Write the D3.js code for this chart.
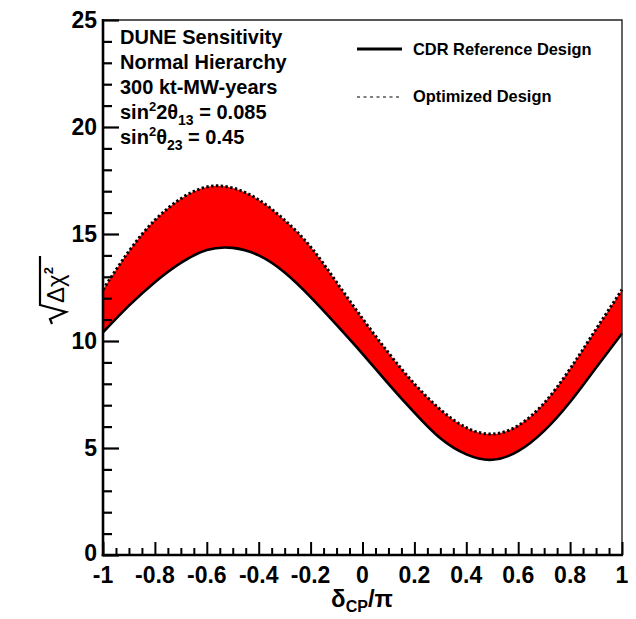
<!DOCTYPE html>
<html><head><meta charset="utf-8">
<script src="https://cdn.jsdelivr.net/npm/d3@7"></script>
<style>
html,body{margin:0;padding:0;background:#fff;}
svg text{font-family:"Liberation Sans",Arial,Helvetica,sans-serif;font-weight:bold;fill:#000;}
</style></head>
<body>
<svg id="c" width="636" height="619"></svg>
<script>
// ---- data ----
const deltaCP = [-1.0,-0.9,-0.8,-0.7,-0.6,-0.5,-0.4,-0.3,-0.2,-0.1,0.0,0.1,0.2,0.3,0.4,0.5,0.6,0.7,0.8,0.9,1.0];
const cdrReference = [10.4,11.65,12.75,13.65,14.25,14.35,14.0,13.2,12.05,10.75,9.4,8.0,6.65,5.45,4.7,4.45,4.85,5.8,7.15,8.75,10.35];
const optimized    = [12.4,14.2,15.65,16.65,17.2,17.15,16.6,15.65,14.4,12.75,11.05,9.45,8.0,6.8,5.95,5.65,6.05,7.1,8.7,10.55,12.4];
const xTicks = [-1,-0.8,-0.6,-0.4,-0.2,0,0.2,0.4,0.6,0.8,1];
const yTicks = [0,5,10,15,20,25];
const infoLines = ["DUNE Sensitivity","Normal Hierarchy","300 kt-MW-years"];
const legendLabels = ["CDR Reference Design","Optimized Design"];

const svg = d3.select("#c");
const x = d3.scaleLinear().domain([-1,1]).range([103,622]);
const y = d3.scaleLinear().domain([0,25]).range([555,20]);

const pts = deltaCP.map((d,i)=>({x:d, lo:cdrReference[i], hi:optimized[i]}));
const curve = d3.curveNatural;

// band
svg.append("path").datum(pts)
  .attr("d", d3.area().x(d=>x(d.x)).y0(d=>y(d.lo)).y1(d=>y(d.hi)).curve(curve))
  .attr("fill","#ff0000");
// optimized dotted
svg.append("path").datum(pts)
  .attr("d", d3.line().x(d=>x(d.x)).y(d=>y(d.hi)).curve(curve))
  .attr("fill","none").attr("stroke","#000").attr("stroke-width",3).attr("stroke-dasharray","2.4,2.4");
// cdr solid
svg.append("path").datum(pts)
  .attr("d", d3.line().x(d=>x(d.x)).y(d=>y(d.lo)).curve(curve))
  .attr("fill","none").attr("stroke","#000").attr("stroke-width",2.6);

// frame (top/right)
svg.append("path").attr("d",`M${x(-1)},${y(25)}H${x(1)}V${y(0)}`)
  .attr("fill","none").attr("stroke","#222").attr("stroke-width",1.4);

// y axis
const yAxis = d3.axisRight(y).tickValues(d3.range(0,26,1)).tickSize(0).tickFormat("");
const gy = svg.append("g").attr("transform",`translate(${x(-1)},0)`).call(yAxis);
gy.select(".domain").remove();
gy.selectAll(".tick line").attr("x2",d=>d%5===0?16:9).attr("stroke","#000").attr("stroke-width",2.2);
svg.append("line").attr("x1",x(-1)).attr("x2",x(-1)).attr("y1",y(25)-1).attr("y2",y(0)+1.3).attr("stroke","#000").attr("stroke-width",2.6);
svg.selectAll(".ylab").data(yTicks).enter().append("text")
  .attr("x",97).attr("y",d=>y(d)).attr("dy",d=>d===0?"0.28em":"0.36em").attr("text-anchor","end")
  .style("font-size","23px").text(d=>d);

// x axis
const xAxis = d3.axisTop(x).tickValues(d3.range(-20,21,1).map(v=>v/20)).tickSize(0).tickFormat("");
const gx = svg.append("g").attr("transform",`translate(0,${y(0)})`).call(xAxis);
gx.select(".domain").remove();
gx.selectAll(".tick line").attr("y2",(d,i)=>i%4===0?-13:-7).attr("stroke","#000").attr("stroke-width",2);
svg.append("line").attr("x1",x(-1)-1.3).attr("x2",x(1)+1).attr("y1",y(0)).attr("y2",y(0)).attr("stroke","#000").attr("stroke-width",2.6);
svg.selectAll(".xlab").data(xTicks).enter().append("text")
  .attr("x",d=>x(d)).attr("y",583).attr("text-anchor","middle")
  .style("font-size","23px").text(d=>String(d));

// x axis title
const xt = svg.append("text").attr("x",362).attr("y",607).attr("text-anchor","middle").style("font-size","24px");
xt.append("tspan").text("δ");
xt.append("tspan").attr("dy",5).style("font-size","16px").text("CP");
xt.append("tspan").attr("dy",-5).text("/π");

// y axis title with radical
const yt = svg.append("g").attr("transform","translate(64,290) rotate(-90)");
yt.append("path").attr("d","M-34,-12 L-29,-14 L-22,2 L-15,-24 L34,-24")
  .attr("fill","none").attr("stroke","#000").attr("stroke-width",2.2);
const ytt = yt.append("text").attr("x",-13).attr("y",0).style("font-size","24px").style("font-weight","normal");
ytt.append("tspan").text("Δχ");
ytt.append("tspan").attr("dy",-11).style("font-size","13px").style("font-weight","bold").text("2");

// info text
const info = svg.append("g");
infoLines.forEach((t,i)=>{
  info.append("text").attr("x",120).attr("y",44+i*25).style("font-size","20px").text(t);
});
const s1 = info.append("text").attr("x",120).attr("y",119).style("font-size","20px");
s1.append("tspan").text("sin");
s1.append("tspan").attr("dy",-8).style("font-size","13px").text("2");
s1.append("tspan").attr("dy",8).text("2θ");
s1.append("tspan").attr("dy",6).style("font-size","14px").text("13");
s1.append("tspan").attr("dy",-6).text(" = 0.085");
const s2 = info.append("text").attr("x",120).attr("y",144).style("font-size","20px");
s2.append("tspan").text("sin");
s2.append("tspan").attr("dy",-8).style("font-size","13px").text("2");
s2.append("tspan").attr("dy",8).text("θ");
s2.append("tspan").attr("dy",6).style("font-size","14px").text("23");
s2.append("tspan").attr("dy",-6).text(" = 0.45");

// legend
const leg = svg.append("g");
leg.append("line").attr("x1",357).attr("x2",402).attr("y1",49).attr("y2",49).attr("stroke","#000").attr("stroke-width",3);
leg.append("line").attr("x1",357).attr("x2",402).attr("y1",97).attr("y2",97).attr("stroke","#000").attr("stroke-width",1.2).attr("stroke-dasharray","3,3.5");
leg.selectAll(".lt").data(legendLabels).enter().append("text")
  .attr("x",413).attr("y",(d,i)=>55+i*47).style("font-size","16.4px").text(d=>d);
</script>
</body></html>
